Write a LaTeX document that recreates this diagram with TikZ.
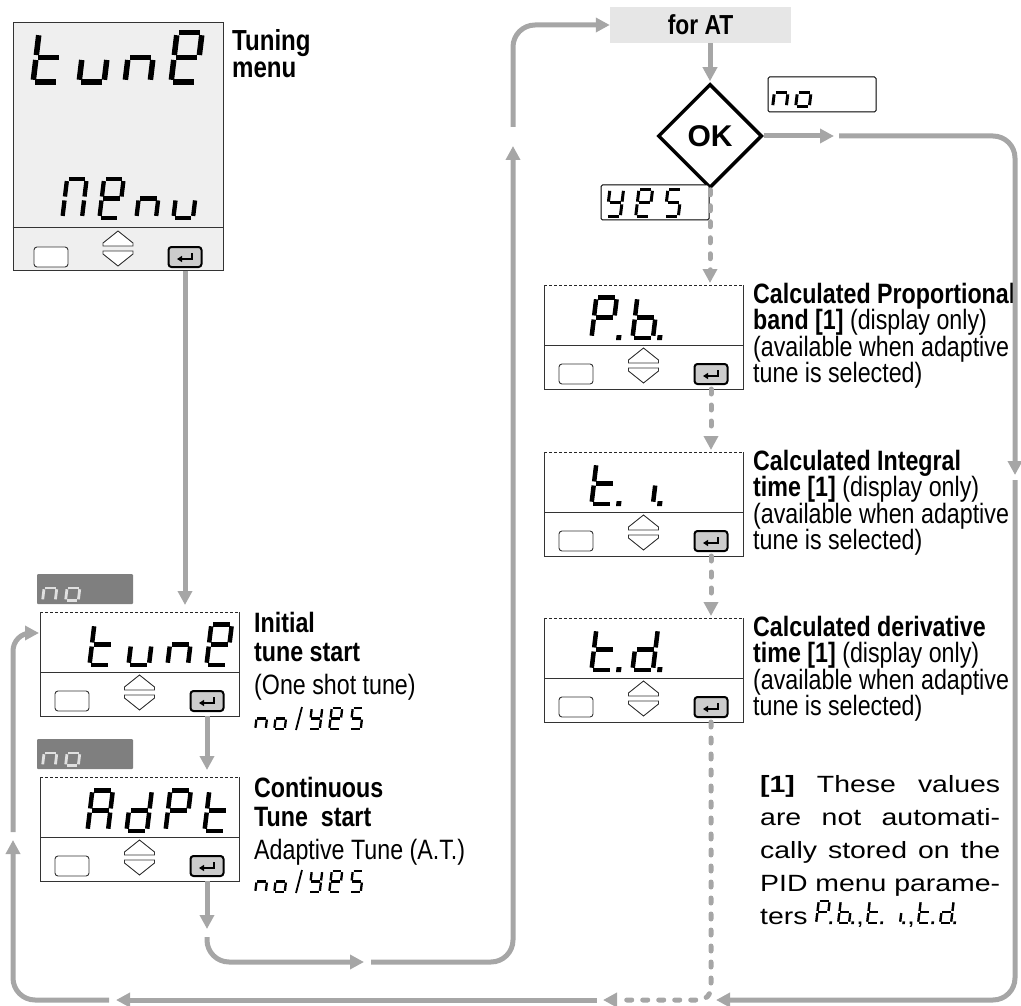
\documentclass[tikz,border=0pt]{standalone}
\usepackage{fontspec}
\setmainfont{Liberation Sans}
\newfontfamily\cond[FakeStretch=0.83]{Liberation Sans}
\newfontfamily\wide[FakeStretch=1.21]{Liberation Sans}
\usetikzlibrary{arrows.meta,shapes.geometric,calc}

\definecolor{lg}{HTML}{A6A6A6}
\definecolor{tagc}{HTML}{7F7F7F}
\definecolor{lcd}{HTML}{EFEFEF}
\definecolor{btnc}{HTML}{CCCCCC}
\definecolor{forc}{HTML}{E6E6E6}

% seven segment pieces (unit cell: width 0.55, height 1)
\def\SSa{\draw (0.09,0.95) -- (0.465,0.95);}
\def\SSb{\draw (0.505,0.905) -- (0.505,0.545);}
\def\SSc{\draw (0.505,0.455) -- (0.505,0.095);}
\def\SSd{\draw (0.09,0.05) -- (0.465,0.05);}
\def\SSe{\draw (0.05,0.455) -- (0.05,0.095);}
\def\SSf{\draw (0.05,0.905) -- (0.05,0.545);}
\def\SSg{\draw (0.09,0.5) -- (0.465,0.5);}
\def\SgT{d,e,f,g}
\def\SgU{c,d,e}
\def\SgN{c,e,g}
\def\SgE{a,b,d,e,f,g}
\def\SgM{a,b,c,e,f}
\def\SgO{c,d,e,g}
\def\SgY{b,c,d,f,g}
\def\SgS{a,c,d,f,g}
\def\SgA{a,b,c,e,f,g}
\def\SgD{b,c,d,e,g}
\def\SgP{a,b,e,f,g}
\def\SgB{c,d,e,f,g}
\def\SgI{c}
\newcommand\SSchar[5][black]{%
  \begin{scope}[shift={(#2,#3)}, x=#4pt, y=#4pt, xslant=0.12, line width=0.1*#4pt, color=#1]
    \foreach \s in #5 {\csname SS\s\endcsname}
  \end{scope}}
\newcommand\SSdot[4][black]{%
  \begin{scope}[shift={(#2,#3)}, x=#4pt, y=#4pt, xslant=0.12]
    \fill[#1] (0.60,0) rectangle (0.71,0.11);
  \end{scope}}

\tikzset{
  conn/.style={draw=lg, line width=5pt, -{Triangle[length=14pt,width=14pt]}},
  dconn/.style={conn, dash pattern=on 5pt off 11pt, line cap=round},
  panel/.style={minimum width=199pt, minimum height=104pt, inner sep=0pt, outer sep=0pt},
  frame/.style={draw=black!80, line width=0.9pt},
  btn/.style={draw=black!80, line width=0.9pt, fill=white, rounded corners=3pt},
  arrbtn/.style={draw=black!80, line width=0.9pt, fill=white},
  enterbtn/.style={draw=black, line width=2pt, fill=btnc, rounded corners=3pt,
    minimum width=33pt, minimum height=20pt, inner sep=0pt},
  lbl/.style={anchor=base west, inner sep=0pt, font=\cond\fontsize{28}{28}\selectfont},
  blbl/.style={lbl, font=\cond\bfseries\fontsize{28}{28}\selectfont},
  fnote/.style={anchor=base west, inner sep=0pt, font=\wide\fontsize{23.5}{24}\selectfont},
  tag/.style={fill=tagc, minimum width=96pt, minimum height=30pt, inner sep=0pt, rounded corners=1pt},
  valbox/.style={draw=black, line width=1pt, fill=white, minimum width=108pt, minimum height=35pt,
    inner sep=0pt, rounded corners=1.5pt},
}

% buttons strip: name, left x, strip y, width, inset
\newcommand\Buttons[5]{%
  \draw[btn] (#2+#5,#3+19) rectangle (#2+#5+34,#3+39);
  \draw[arrbtn] (#2+#4/2-15,#3+18) -- (#2+#4/2-15,#3+15) -- (#2+#4/2,#3+3)
     -- (#2+#4/2+15,#3+15) -- (#2+#4/2+15,#3+18) -- cycle;
  \draw[arrbtn] (#2+#4/2-15,#3+23) -- (#2+#4/2+15,#3+23) -- (#2+#4/2+15,#3+26)
     -- (#2+#4/2,#3+38) -- (#2+#4/2-15,#3+26) -- cycle;
  \node[enterbtn] (#1e) at (#2+#4-#5-17,#3+29) {};
  \draw[line width=1.6pt, -{Triangle[length=5pt,width=6pt]}]
     ($(#1e.center)+(7,-4)$) -- ($(#1e.center)+(7,2)$) -- ($(#1e.center)+(-8,2)$);}

% panel: name, left x, top y
\newcommand\Panel[3]{%
  \node[panel] (#1) at (#2+99.5,#3+52) {};
  \draw[black!85, line width=0.8pt, dash pattern=on 3pt off 2pt] (#1.north west) -- (#1.north east);
  \draw[frame] (#1.north east) -- (#1.south east) -- (#1.south west) -- (#1.north west);
  \draw[frame] ($(#1.north west)+(0,60)$) -- ($(#1.north east)+(0,60)$);
  \Buttons{#1}{#2}{#3+60}{199}{15}}

\begin{document}
\begin{tikzpicture}[x=1pt,y=-1pt]
\useasboundingbox (0,0) rectangle (1021,1006);

% ---------- top display ----------
\node[minimum width=210pt, minimum height=247pt, inner sep=0pt, fill=lcd, draw=black!80, line width=1pt] (d1) at (118,146.5) {};
\draw[frame] ($(d1.north west)+(0,205)$) -- ($(d1.north east)+(0,205)$);
\Buttons{d1}{13}{228}{210}{21}
\SSchar{30}{85}{55}{\SgT}
\SSchar{76}{85}{55}{\SgU}
\SSchar{122}{85}{55}{\SgN}
\SSchar{168}{85}{55}{\SgE}
\SSchar{60}{220}{43}{\SgM}
\SSchar{97}{220}{43}{\SgE}
\SSchar{134}{220}{43}{\SgN}
\SSchar{171}{220}{43}{\SgU}
\node[blbl, font=\cond\bfseries\fontsize{29}{29}\selectfont] (l1a) at (232,51) {Tuning};
\node[blbl, font=\cond\bfseries\fontsize{29}{29}\selectfont] (l1b) at (232,78) {menu};

% ---------- left panels ----------
\node[tag] (tag1) at (85,589) {};
\SSchar[white!88!black]{41}{602}{28}{\SgN}
\SSchar[white!88!black]{64}{602}{28}{\SgO}
\Panel{d2}{40}{612}
\SSchar{87}{667}{45}{\SgT}
\SSchar{126}{667}{45}{\SgU}
\SSchar{165}{667}{45}{\SgN}
\SSchar{204}{667}{45}{\SgE}
\node[blbl] (l2a) at (254,632) {Initial};
\node[blbl] (l2b) at (254,661) {tune start};
\node[lbl] (l2c) at (254,694) {(One shot tune)};
\SSchar{254}{730}{23}{\SgN}
\SSchar{273}{730}{23}{\SgO}
\draw[line width=1.8pt] (296,730) -- (302,707);
\SSchar{308}{730}{23}{\SgY}
\SSchar{328}{730}{23}{\SgE}
\SSchar{349}{730}{23}{\SgS}

\node[tag] (tag2) at (85,754) {};
\SSchar[white!88!black]{41}{767}{28}{\SgN}
\SSchar[white!88!black]{64}{767}{28}{\SgO}
\Panel{d3}{40}{777}
\SSchar{85}{833}{45}{\SgA}
\SSchar{124}{833}{45}{\SgD}
\SSchar{163}{833}{45}{\SgP}
\SSchar{202}{833}{45}{\SgT}
\node[blbl] (l3a) at (254,797) {Continuous};
\node[blbl] (l3b) at (254,826) {Tune\ \ start};
\node[lbl] (l3c) at (254,859) {Adaptive Tune (A.T.)};
\SSchar{254}{893}{23}{\SgN}
\SSchar{273}{893}{23}{\SgO}
\draw[line width=1.8pt] (296,893) -- (302,870);
\SSchar{308}{893}{23}{\SgY}
\SSchar{328}{893}{23}{\SgE}
\SSchar{349}{893}{23}{\SgS}

% ---------- decision ----------
\node[fill=forc, minimum width=181pt, minimum height=36pt, inner sep=0pt,
      font=\cond\bfseries\fontsize{27.5}{27}\selectfont] (forat) at (700.5,25) {for AT};
\node[diamond, draw=black, line width=3.5pt, minimum width=104pt, minimum height=104pt, inner sep=0pt,
      font=\bfseries\fontsize{30}{30}\selectfont] (ok) at (710,136) {OK};
\node[valbox] (nobox) at (822,94.5) {};
\SSchar{771}{108}{30}{\SgN}
\SSchar{794}{108}{30}{\SgO}
\node[valbox] (yesbox) at (655,202.5) {};
\SSchar{605}{218}{30}{\SgY}
\SSchar{634}{218}{30}{\SgE}
\SSchar{663}{218}{30}{\SgS}

% ---------- right panels ----------
\Panel{pb}{544}{285}
\SSchar{589}{340}{45}{\SgP}\SSdot{589}{340}{45}
\SSchar{630}{340}{45}{\SgB}\SSdot{630}{340}{45}
\Panel{ti}{544}{452}
\SSchar{589}{506}{45}{\SgT}\SSdot{589}{506}{45}
\SSchar{630}{506}{45}{\SgI}\SSdot{630}{506}{45}
\Panel{td}{544}{618}
\SSchar{589}{672}{45}{\SgT}\SSdot{589}{672}{45}
\SSchar{630}{672}{45}{\SgD}\SSdot{630}{672}{45}

\node[blbl] (r1a) at (753,303) {Calculated Proportional};
\node[lbl] (r1b) at (753,329.5) {\textbf{band [1]} (display only)};
\node[lbl] (r1c) at (753,356) {(available when adaptive};
\node[lbl] (r1d) at (753,382.5) {tune is selected)};
\node[blbl] (r2a) at (753,470) {Calculated Integral};
\node[lbl] (r2b) at (753,496.5) {\textbf{time [1]} (display only)};
\node[lbl] (r2c) at (753,523) {(available when adaptive};
\node[lbl] (r2d) at (753,549.5) {tune is selected)};
\node[blbl] (r3a) at (753,636) {Calculated derivative};
\node[lbl] (r3b) at (753,662.5) {\textbf{time [1]} (display only)};
\node[lbl] (r3c) at (753,689) {(available when adaptive};
\node[lbl] (r3d) at (753,715.5) {tune is selected)};

% ---------- footnote ----------
\node[fnote] (fn1) at (760,792) {\makebox[240pt][s]{\textbf{[1]} These values}};
\node[fnote] (fn2) at (760,825) {\makebox[240pt][s]{are not automati-}};
\node[fnote] (fn3) at (760,858) {\makebox[240pt][s]{cally stored on the}};
\node[fnote] (fn4) at (760,891) {\makebox[240pt][s]{PID menu parame-}};
\node[fnote] (fn5) at (760,924) {ters};
\begin{scope}[shift={(fn5.base east)}]
  \SSchar{7}{0}{24}{\SgP}\SSdot{7}{0}{24}
  \SSchar{29}{0}{24}{\SgB}\SSdot{29}{0}{24}
  \node[fnote] (cm1) at (48,0) {,};
  \SSchar{58}{0}{24}{\SgT}\SSdot{58}{0}{24}
  \SSchar{80}{0}{24}{\SgI}\SSdot{80}{0}{24}
  \node[fnote] (cm2) at (99,0) {,};
  \SSchar{109}{0}{24}{\SgT}\SSdot{109}{0}{24}
  \SSchar{131}{0}{24}{\SgD}\SSdot{131}{0}{24}
\end{scope}

% ---------- connector waypoints ----------
\coordinate (p1) at (207,929);
\coordinate (p2) at (207,937);
\coordinate (p3) at (364,962);
\coordinate (p4) at (371,962);
\coordinate (p5) at (513,146);
\coordinate (p6) at (513,127);
\coordinate (q1) at (834,136);
\coordinate (q2) at (839,136);
\coordinate (q3) at (1015,475);
\coordinate (q4) at (1015,480);
\coordinate (q5) at (716,1000);
\coordinate (r1) at (603,1000);
\coordinate (r2) at (597,1000);
\coordinate (r3) at (116,1000);
\coordinate (r4) at (109,1000);
\coordinate (r5) at (13,840);
\coordinate (r6) at (13,832);
\coordinate (d2in) at ($(d2.north west)+(-1,21)$);

% ---------- connectors ----------
\draw[conn, shorten >=7pt] (d1e.south |- d1.south) -- (d1e.south |- d2.north);
\draw[conn, shorten >=7pt] (d2e.south |- d2.south) -- (d2e.south |- d3.north);
\draw[conn] (d3e.south |- d3.south) -- (p1);
\draw[conn, rounded corners=22pt] (p2) |- (p3);
\draw[conn, rounded corners=22pt] (p4) -| (p5);
\draw[conn, rounded corners=22pt] (p6) |- (forat.west);
\draw[conn, shorten >=1pt] (forat.south -| ok.north) -- (ok.north);
\draw[conn] (ok.east) -- (q1);
\draw[conn, rounded corners=22pt] (q2) -| (q3);
\draw[conn, rounded corners=22pt] (q4) |- (q5);
\draw[dconn, shorten >=2pt] (ok.south) -- (ok.south |- pb.north);
\draw[dconn, shorten >=2pt] (pbe.south |- pb.south) -- (pbe.south |- ti.north);
\draw[dconn, shorten >=2pt] (tie.south |- ti.south) -- (tie.south |- td.north);
\draw[dconn, rounded corners=12pt] (tde.south |- td.south) |- (r1);
\draw[conn] (r2) -- (r3);
\draw[conn, rounded corners=22pt] (r4) -| (r5);
\draw[conn, rounded corners=18pt] (r6) |- (d2in);
\end{tikzpicture}
\end{document}
